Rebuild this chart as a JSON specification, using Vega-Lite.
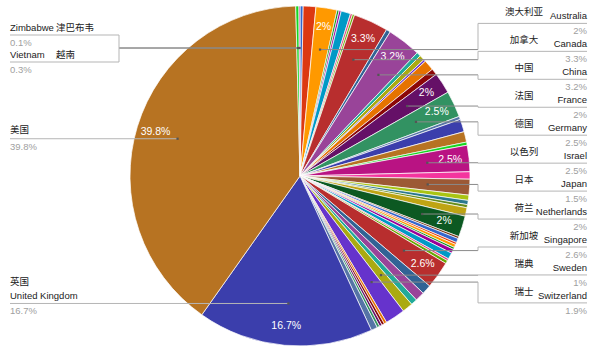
{
  "$schema": "https://vega.github.io/schema/vega-lite/v6.json",
  "width": 600,
  "height": 352,
  "autosize": {"type": "fit", "contains": "padding"},
  "padding": 0,
  "background": "white",
  "config": {"view": {"stroke": null}},
  "data": {
    "values": [
      {"idx": 0, "country": "Algeria", "value": 0.3},
      {"idx": 1, "country": "Argentina", "value": 1.2},
      {"idx": 2, "country": "Australia", "value": 2.0, "zh": "澳大利亚", "en": "Australia", "side": "R", "slot": 0},
      {"idx": 3, "country": "Austria", "value": 0.2},
      {"idx": 4, "country": "Bangladesh", "value": 0.2},
      {"idx": 5, "country": "Belgium", "value": 0.9},
      {"idx": 6, "country": "Brazil", "value": 0.2},
      {"idx": 7, "country": "Bulgaria", "value": 0.2},
      {"idx": 8, "country": "Canada", "value": 3.3, "zh": "加拿大", "en": "Canada", "side": "R", "slot": 1},
      {"idx": 9, "country": "Chile", "value": 0.4},
      {"idx": 10, "country": "China", "value": 3.2, "zh": "中国", "en": "China", "side": "R", "slot": 2},
      {"idx": 11, "country": "Colombia", "value": 0.4},
      {"idx": 12, "country": "Czech Republic", "value": 0.5},
      {"idx": 13, "country": "Denmark", "value": 0.2},
      {"idx": 14, "country": "Egypt", "value": 1.0},
      {"idx": 15, "country": "Finland", "value": 0.6},
      {"idx": 16, "country": "France", "value": 2.0, "zh": "法国", "en": "France", "side": "R", "slot": 3},
      {"idx": 17, "country": "Germany", "value": 2.5, "zh": "德国", "en": "Germany", "side": "R", "slot": 4},
      {"idx": 18, "country": "Greece", "value": 0.3},
      {"idx": 19, "country": "Hong Kong", "value": 1.2},
      {"idx": 20, "country": "India", "value": 1.0},
      {"idx": 21, "country": "Ireland", "value": 0.3},
      {"idx": 22, "country": "Israel", "value": 2.5, "zh": "以色列", "en": "Israel", "side": "R", "slot": 5},
      {"idx": 23, "country": "Italy", "value": 0.7},
      {"idx": 24, "country": "Japan", "value": 1.5, "zh": "日本", "en": "Japan", "side": "R", "slot": 6},
      {"idx": 25, "country": "Kenya", "value": 0.5},
      {"idx": 26, "country": "Korea", "value": 0.4},
      {"idx": 27, "country": "Malaysia", "value": 0.3},
      {"idx": 28, "country": "Mexico", "value": 0.8},
      {"idx": 29, "country": "Netherlands", "value": 2.0, "zh": "荷兰", "en": "Netherlands", "side": "R", "slot": 7},
      {"idx": 30, "country": "New Zealand", "value": 0.2},
      {"idx": 31, "country": "Nigeria", "value": 0.4},
      {"idx": 32, "country": "Norway", "value": 0.2},
      {"idx": 33, "country": "Pakistan", "value": 0.3},
      {"idx": 34, "country": "Philippines", "value": 0.2},
      {"idx": 35, "country": "Poland", "value": 0.4},
      {"idx": 36, "country": "Portugal", "value": 0.6},
      {"idx": 37, "country": "Russia", "value": 0.2},
      {"idx": 38, "country": "Saudi Arabia", "value": 0.3},
      {"idx": 39, "country": "Singapore", "value": 2.6, "zh": "新加坡", "en": "Singapore", "side": "R", "slot": 8},
      {"idx": 40, "country": "Slovenia", "value": 0.9},
      {"idx": 41, "country": "South Africa", "value": 0.9},
      {"idx": 42, "country": "Spain", "value": 0.6},
      {"idx": 43, "country": "Sweden", "value": 1.0, "zh": "瑞典", "en": "Sweden", "side": "R", "slot": 9},
      {"idx": 44, "country": "Switzerland", "value": 1.9, "zh": "瑞士", "en": "Switzerland", "side": "R", "slot": 10},
      {"idx": 45, "country": "Taiwan", "value": 0.25},
      {"idx": 46, "country": "Thailand", "value": 0.25},
      {"idx": 47, "country": "Turkey", "value": 0.25},
      {"idx": 48, "country": "Ukraine", "value": 0.25},
      {"idx": 49, "country": "United Arab Emirates", "value": 0.6},
      {"idx": 50, "country": "United Kingdom", "value": 16.7, "zh": "英国", "en": "United Kingdom", "side": "L"},
      {"idx": 51, "country": "United States", "value": 39.8, "zh": "美国", "en": "", "side": "L"},
      {"idx": 52, "country": "Vietnam", "value": 0.3, "zh": "越南", "en": "Vietnam", "side": "L", "slot": 1},
      {"idx": 53, "country": "Zimbabwe", "value": 0.1, "zh": "津巴布韦", "en": "Zimbabwe", "side": "L", "slot": 0}
    ]
  },
  "transform": [
    {"joinaggregate": [{"op": "sum", "field": "value", "as": "total"}]},
    {"window": [{"op": "sum", "field": "value", "as": "cum"}], "sort": [{"field": "idx", "order": "ascending"}], "frame": [null, 0]},
    {"calculate": "(datum.cum - datum.value / 2) / datum.total * 2 * PI", "as": "mid"},
    {"calculate": "128 * sin(datum.mid)", "as": "dx"},
    {"calculate": "-128 * cos(datum.mid)", "as": "dy"},
    {"calculate": "datum.value >= 2 ? format(datum.value, '.1~f') + '%' : ''", "as": "sliceLabel"},
    {"calculate": "format(datum.value, '.1~f') + '%'", "as": "pctText"},
    {"calculate": "datum.side == 'R' ? -152.6 + 27.95 * datum.slot : (isValid(datum.slot) ? -141 + 27 * datum.slot : datum.dy)", "as": "sepY"},
    {"calculate": "datum.side == 'R' ? 178 : (isValid(datum.slot) ? -181 : datum.dx)", "as": "elbowX"},
    {"calculate": "datum.side == 'R' ? 287 : -290", "as": "endX"},
    {"calculate": "datum.side == 'R' ? 224 : (isValid(datum.slot) ? -244 : -290)", "as": "zhX"},
    {"calculate": "datum.side == 'R' ? datum.sepY - 11 : (isValid(datum.slot) ? datum.sepY - 7 : (datum.en != '' ? datum.sepY - 21 : datum.sepY - 9))", "as": "zhY"},
    {"calculate": "datum.sepY - 7", "as": "enY"},
    {"calculate": "datum.sepY + 8", "as": "pctY"}
  ],
  "layer": [
    {
      "mark": {"type": "arc", "radius": 170, "stroke": "white", "strokeWidth": 0.7},
      "encoding": {
        "theta": {"field": "value", "type": "quantitative", "stack": true},
        "order": {"field": "idx", "type": "quantitative"},
        "color": {
          "field": "country",
          "type": "nominal",
          "legend": null,
          "scale": {
            "domain": ["Algeria","Argentina","Australia","Austria","Bangladesh","Belgium","Brazil","Bulgaria","Canada","Chile","China","Colombia","Czech Republic","Denmark","Egypt","Finland","France","Germany","Greece","Hong Kong","India","Ireland","Israel","Italy","Japan","Kenya","Korea","Malaysia","Mexico","Netherlands","New Zealand","Nigeria","Norway","Pakistan","Philippines","Poland","Portugal","Russia","Saudi Arabia","Singapore","Slovenia","South Africa","Spain","Sweden","Switzerland","Taiwan","Thailand","Turkey","Ukraine","United Arab Emirates","United Kingdom","United States","Vietnam","Zimbabwe"],
            "range": ["#3366cc","#dc3912","#ff9900","#109618","#990099","#0099c6","#dd4477","#66aa00","#b82e2e","#316395","#994499","#22aa99","#aaaa11","#6633cc","#e67300","#8b0707","#651067","#329262","#5574a6","#3b3eac","#b77322","#16d620","#b91383","#f4359e","#9c5935","#a9c413","#2a778d","#668d1c","#bea413","#0c5922","#743411","#3366cc","#dc3912","#ff9900","#109618","#990099","#0099c6","#dd4477","#66aa00","#b82e2e","#316395","#994499","#22aa99","#aaaa11","#6633cc","#e67300","#8b0707","#651067","#329262","#5574a6","#3b3eac","#b77322","#16d620","#b91383"]
          }
        }
      }
    },
    {
      "mark": {"type": "text", "radius": 151, "fill": "white", "fontSize": 10.5, "font": "Liberation Sans", "align": "center", "baseline": "middle"},
      "encoding": {
        "theta": {"field": "value", "type": "quantitative", "stack": true},
        "order": {"field": "idx", "type": "quantitative"},
        "text": {"field": "sliceLabel", "type": "nominal"}
      }
    },
    {
      "transform": [{"filter": "isValid(datum.side)"}],
      "mark": {"type": "rule", "stroke": "#8a8a8a", "strokeWidth": 1},
      "encoding": {
        "x": {"field": "dx", "type": "quantitative", "scale": {"domain": [-300, 300], "nice": false, "zero": false}, "axis": null},
        "x2": {"field": "elbowX"},
        "y": {"field": "dy", "type": "quantitative", "scale": {"domain": [-176, 176], "reverse": true, "nice": false, "zero": false}, "axis": null}
      }
    },
    {
      "transform": [{"filter": "isValid(datum.side)"}],
      "mark": {"type": "rule", "stroke": "#b5b5b5", "strokeWidth": 1},
      "encoding": {
        "x": {"field": "elbowX", "type": "quantitative", "scale": {"domain": [-300, 300], "nice": false, "zero": false}, "axis": null},
        "y": {"field": "dy", "type": "quantitative", "scale": {"domain": [-176, 176], "reverse": true, "nice": false, "zero": false}, "axis": null},
        "y2": {"field": "sepY"}
      }
    },
    {
      "transform": [{"filter": "isValid(datum.side)"}],
      "mark": {"type": "rule", "stroke": "#b5b5b5", "strokeWidth": 1},
      "encoding": {
        "x": {"field": "elbowX", "type": "quantitative", "scale": {"domain": [-300, 300], "nice": false, "zero": false}, "axis": null},
        "x2": {"field": "endX"},
        "y": {"field": "sepY", "type": "quantitative", "scale": {"domain": [-176, 176], "reverse": true, "nice": false, "zero": false}, "axis": null}
      }
    },
    {
      "transform": [{"filter": "isValid(datum.side)"}],
      "mark": {"type": "point", "shape": "square", "filled": true, "size": 5, "color": "#555555", "opacity": 1},
      "encoding": {
        "x": {"field": "dx", "type": "quantitative", "scale": {"domain": [-300, 300], "nice": false, "zero": false}, "axis": null},
        "y": {"field": "dy", "type": "quantitative", "scale": {"domain": [-176, 176], "reverse": true, "nice": false, "zero": false}, "axis": null}
      }
    },
    {
      "transform": [{"filter": "datum.side == 'R'"}],
      "mark": {"type": "text", "align": "right", "baseline": "middle", "fontSize": 9.5, "font": "Liberation Sans", "fill": "#222222"},
      "encoding": {
        "x": {"field": "endX", "type": "quantitative", "scale": {"domain": [-300, 300], "nice": false, "zero": false}, "axis": null},
        "y": {"field": "enY", "type": "quantitative", "scale": {"domain": [-176, 176], "reverse": true, "nice": false, "zero": false}, "axis": null},
        "text": {"field": "en", "type": "nominal"}
      }
    },
    {
      "transform": [{"filter": "datum.side == 'R'"}],
      "mark": {"type": "text", "align": "center", "baseline": "middle", "fontSize": 9.5, "font": "Noto Sans CJK SC", "fill": "#222222"},
      "encoding": {
        "x": {"field": "zhX", "type": "quantitative", "scale": {"domain": [-300, 300], "nice": false, "zero": false}, "axis": null},
        "y": {"field": "zhY", "type": "quantitative", "scale": {"domain": [-176, 176], "reverse": true, "nice": false, "zero": false}, "axis": null},
        "text": {"field": "zh", "type": "nominal"}
      }
    },
    {
      "transform": [{"filter": "datum.side == 'R'"}],
      "mark": {"type": "text", "align": "right", "baseline": "middle", "fontSize": 9.5, "font": "Liberation Sans", "fill": "#a0a0a0"},
      "encoding": {
        "x": {"field": "endX", "type": "quantitative", "scale": {"domain": [-300, 300], "nice": false, "zero": false}, "axis": null},
        "y": {"field": "pctY", "type": "quantitative", "scale": {"domain": [-176, 176], "reverse": true, "nice": false, "zero": false}, "axis": null},
        "text": {"field": "pctText", "type": "nominal"}
      }
    },
    {
      "transform": [{"filter": "datum.side == 'L'"}],
      "mark": {"type": "text", "align": "left", "baseline": "middle", "fontSize": 9.5, "font": "Liberation Sans", "fill": "#222222"},
      "encoding": {
        "x": {"field": "endX", "type": "quantitative", "scale": {"domain": [-300, 300], "nice": false, "zero": false}, "axis": null},
        "y": {"field": "enY", "type": "quantitative", "scale": {"domain": [-176, 176], "reverse": true, "nice": false, "zero": false}, "axis": null},
        "text": {"field": "en", "type": "nominal"}
      }
    },
    {
      "transform": [{"filter": "datum.side == 'L'"}],
      "mark": {"type": "text", "align": "left", "baseline": "middle", "fontSize": 9.5, "font": "Noto Sans CJK SC", "fill": "#222222"},
      "encoding": {
        "x": {"field": "zhX", "type": "quantitative", "scale": {"domain": [-300, 300], "nice": false, "zero": false}, "axis": null},
        "y": {"field": "zhY", "type": "quantitative", "scale": {"domain": [-176, 176], "reverse": true, "nice": false, "zero": false}, "axis": null},
        "text": {"field": "zh", "type": "nominal"}
      }
    },
    {
      "transform": [{"filter": "datum.side == 'L'"}],
      "mark": {"type": "text", "align": "left", "baseline": "middle", "fontSize": 9.5, "font": "Liberation Sans", "fill": "#a0a0a0"},
      "encoding": {
        "x": {"field": "endX", "type": "quantitative", "scale": {"domain": [-300, 300], "nice": false, "zero": false}, "axis": null},
        "y": {"field": "pctY", "type": "quantitative", "scale": {"domain": [-176, 176], "reverse": true, "nice": false, "zero": false}, "axis": null},
        "text": {"field": "pctText", "type": "nominal"}
      }
    }
  ]
}
